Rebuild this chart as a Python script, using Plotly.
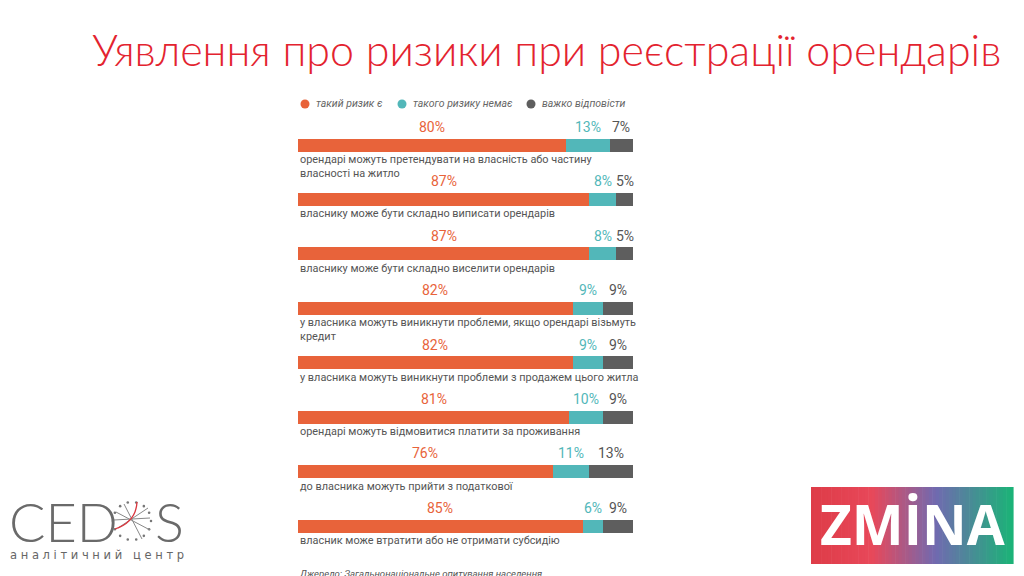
import math
import plotly.graph_objects as go

categories = [
    "орендарі можуть претендувати на власність або частину<br>власності на житло",
    "власнику може бути складно виписати орендарів",
    "власнику може бути складно виселити орендарів",
    "у власника можуть виникнути проблеми, якщо орендарі візьмуть<br>кредит",
    "у власника можуть виникнути проблеми з продажем цього житла",
    "орендарі можуть відмовитися платити за проживання",
    "до власника можуть прийти з податкової",
    "власник може втратити або не отримати субсидію",
]
risk_yes = [80, 87, 87, 82, 82, 81, 76, 85]
risk_no = [13, 8, 8, 9, 9, 10, 11, 6]
dont_know = [7, 5, 5, 9, 9, 9, 13, 9]

series_names = ["такий ризик є", "такого ризику немає", "важко відповісти"]
series_colors = ["#e8633a", "#52b7b9", "#5e5e5e"]
label_colors = ["#e8633a", "#52b7b9", "#555555"]

W, H = 1024, 576
OFF = 8  # page body margin


def px(x):
    return (x - OFF) / W


def py(y):
    return 1 - (y - OFF) / H


# y axis: category 0 centred at screen pixel 145, category 7 at 526
step = (526 - 145) / 7
c0 = 145 - OFF
y_top = -c0 / step
y_bot = (H - c0) / step
bar_w = 13 / step

fig = go.Figure()
idx = list(range(len(categories)))
series = [risk_yes, risk_no, dont_know]
for name, vals, col in zip(series_names, series, series_colors):
    fig.add_trace(go.Bar(
        y=idx, x=vals, orientation="h", marker_color=col, name=name,
        width=bar_w, showlegend=False, hoverinfo="skip",
        marker_line_width=0,
    ))

annotations = []
shapes = []

# legend drawn by hand: round swatch + italic text
legend_x = [305, 402, 531]
for name, col, lx in zip(series_names, series_colors, legend_x):
    shapes.append(dict(type="circle", xref="paper", yref="paper",
                       x0=px(lx - 4.5), x1=px(lx + 4.5), y0=py(104 + 4.5), y1=py(104 - 4.5),
                       fillcolor=col, line_width=0))
    annotations.append(dict(
        x=px(lx + 9), y=py(104), xref="paper", yref="paper", xanchor="left", yanchor="middle",
        text=name, showarrow=False,
        font=dict(family="Roboto", size=10.5, color="#666666", style="italic"),
    ))

for i in idx:
    left = 0
    for vals, lc in zip(series, label_colors):
        v = vals[i]
        annotations.append(dict(
            x=left + v / 2, y=i - bar_w / 2 - 0.03, xref="x", yref="y",
            text=f"{v}%", showarrow=False, xanchor="center", yanchor="bottom",
            font=dict(family="Liberation Sans Narrow, Roboto", size=14, color=lc),
        ))
        left += v
    annotations.append(dict(
        x=0, y=i + bar_w / 2 - 0.01, xref="x", yref="y", text=categories[i],
        showarrow=False, xanchor="left", yanchor="top", align="left",
        font=dict(family="Roboto", size=10.9, color="#555555"),
    ))

# title
annotations.append(dict(
    x=px(546), y=py(50), xref="paper", yref="paper", xanchor="center", yanchor="middle",
    text="Уявлення про ризики при реєстрації орендарів", showarrow=False,
    font=dict(family="Lato", size=43, color="#e3232f", weight=300),
))
# source
annotations.append(dict(
    x=px(297), y=py(573), xref="paper", yref="paper", xanchor="left", yanchor="middle",
    text="Джерело: Загальнонаціональне опитування населення", showarrow=False,
    font=dict(family="Roboto", size=9.6, color="#555555", style="italic"),
))

# ZMINA logo
stops = [(0.0, (222, 60, 72)), (0.3, (232, 72, 90)), (0.62, (112, 106, 176)), (1.0, (28, 178, 120))]


def grad(t):
    for (t0, ca), (t1, cb) in zip(stops[:-1], stops[1:]):
        if t <= t1:
            f = (t - t0) / (t1 - t0)
            return "rgb(%d,%d,%d)" % tuple(round(a + (b - a) * f) for a, b in zip(ca, cb))
    return "rgb(%d,%d,%d)" % stops[-1][1]


n = 60
x0, x1 = 811, 1013
for k in range(n):
    xa = x0 + (x1 - x0) * k / n
    xb = x0 + (x1 - x0) * (k + 1) / n + 0.6
    shapes.append(dict(type="rect", xref="paper", yref="paper",
                       x0=px(xa), x1=px(xb), y0=py(564), y1=py(487),
                       fillcolor=grad(k / (n - 1)), line_width=0, layer="below"))
annotations.append(dict(
    x=px(912), y=py(523), xref="paper", yref="paper", xanchor="center", yanchor="middle",
    text="<b>ZMİNA</b>", showarrow=False,
    font=dict(family="Open Sans", size=55, color="white"),
))

# CEDOS logo
annotations.append(dict(
    x=px(7), y=py(521), xref="paper", yref="paper", xanchor="left", yanchor="middle",
    text="CED", showarrow=False,
    font=dict(family="Lato", size=54, color="#6a6a6a", weight=300),
))
annotations.append(dict(
    x=px(153), y=py(521), xref="paper", yref="paper", xanchor="left", yanchor="middle",
    text="S", showarrow=False,
    font=dict(family="Lato", size=54, color="#6a6a6a", weight=300),
))
annotations.append(dict(
    x=px(97), y=py(555), xref="paper", yref="paper", xanchor="center", yanchor="middle",
    text="а н а л і т и ч н и й   ц е н т р", showarrow=False,
    font=dict(family="DejaVu Sans", size=11.5, color="#666666"),
))
cx, cy, r = 132, 521, 19
for k in range(14):
    a = 2 * math.pi * k / 14
    xx, yy = cx + r * math.cos(a), cy + r * math.sin(a)
    shapes.append(dict(type="circle", xref="paper", yref="paper",
                       x0=px(xx - 1.3), x1=px(xx + 1.3), y0=py(yy + 1.3), y1=py(yy - 1.3),
                       fillcolor="#777777", line_width=0))
for (ax, ay, bx, by) in [(116, 512, 150, 530), (118, 528, 148, 508), (124, 504, 142, 539), (114, 520, 150, 518)]:
    shapes.append(dict(type="line", xref="paper", yref="paper",
                       x0=px(ax), y0=py(ay), x1=px(bx), y1=py(by),
                       line=dict(color="#888888", width=1)))
shapes.append(dict(type="path", xref="paper", yref="paper",
                   path=f"M {px(115)} {py(529)} Q {px(136)} {py(522)} {px(137)} {py(502)}",
                   line=dict(color="#d9363e", width=1.3)))

fig.update_layout(
    width=W, height=H,
    margin=dict(l=0, r=0, t=0, b=0),
    paper_bgcolor="white", plot_bgcolor="white",
    barmode="stack", bargap=0,
    xaxis=dict(domain=[px(298), px(633)], range=[0, 100], visible=False),
    yaxis=dict(domain=[0, 1], range=[y_bot, y_top], visible=False),
    showlegend=False,
    annotations=annotations,
    shapes=shapes,
)

fig.write_html("out.html")
